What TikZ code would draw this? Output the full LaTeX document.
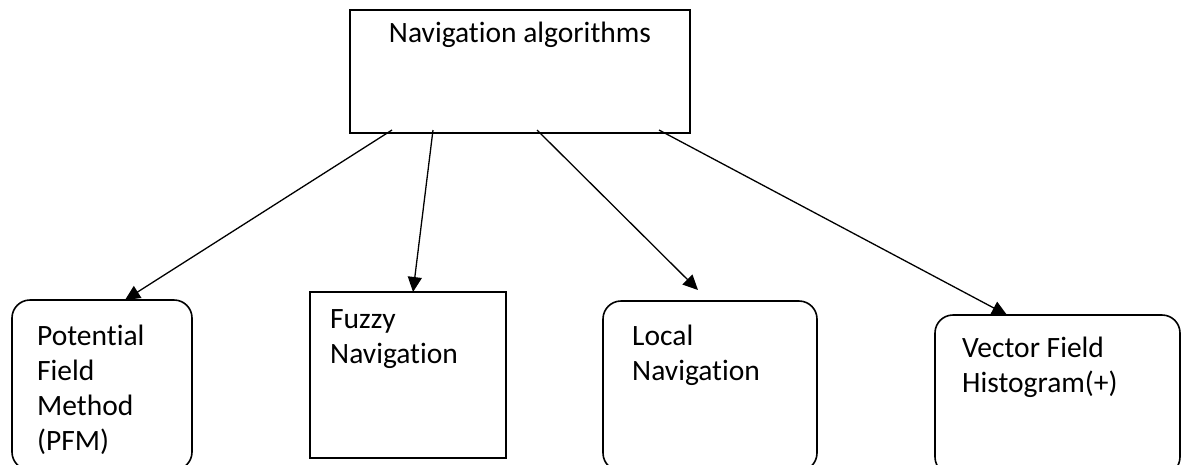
\documentclass[tikz,border=0pt]{standalone}
\usepackage{fontspec}
\setmainfont{Carlito}[Ligatures={NoCommon}]
\usetikzlibrary{arrows.meta}
\begin{document}
\begin{tikzpicture}[x=1pt,y=-1pt,
  boxline/.style={draw=black,line width=1.6pt,inner sep=0pt,outer sep=0pt,anchor=north west},
  roundbox/.style={boxline,rounded corners=18pt},
  lbl/.style={inner sep=0pt,anchor=base west,font=\fontsize{29.5}{35}\selectfont},
  arr/.style={line width=1.3pt,-{Triangle[length=15pt,width=14pt]}}]
\useasboundingbox (0,0) rectangle (1181,464);
\clip (0,0) rectangle (1181,464);
\fill[white] (0,0) rectangle (1181,464);
\node[boxline,minimum width=340pt,minimum height=123pt] (top) at (350,10) {};
\node[lbl,anchor=base] (toptxt) at (520,42) {Navigation algorithms};
\node[roundbox,minimum width=180pt,minimum height=170pt] (pfm) at (12,300) {};
\node[lbl] (pfmtxt) at (37,345) {\parbox[t]{150pt}{Potential\\Field\\Method\\(PFM)}};
\node[boxline,minimum width=196pt,minimum height=166pt] (fuzzy) at (310,292) {};
\node[lbl] (fuzzytxt) at (330,328) {\parbox[t]{170pt}{Fuzzy\\Navigation}};
\node[roundbox,minimum width=214pt,minimum height=170pt] (local) at (603,301) {};
\node[lbl] (localtxt) at (632,345) {\parbox[t]{170pt}{Local\\Navigation}};
\node[roundbox,minimum width=245pt,minimum height=160pt] (vfh) at (935,315) {};
\node[lbl] (vfhtxt) at (962,357) {\parbox[t]{200pt}{Vector Field\\Histogram(+)}};
\draw[arr] ([xshift=42pt,yshift=3pt]top.south west) -- ([xshift=113pt]pfm.north west);
\draw[arr] ([xshift=83pt,yshift=3pt]top.south west) -- ([xshift=103pt]fuzzy.north west);
\draw[arr] ([xshift=187pt,yshift=3pt]top.south west) -- ([xshift=95pt,yshift=11pt]local.north west);
\draw[arr] ([xshift=309pt,yshift=3pt]top.south west) -- ([xshift=72pt]vfh.north west);
\end{tikzpicture}
\end{document}
